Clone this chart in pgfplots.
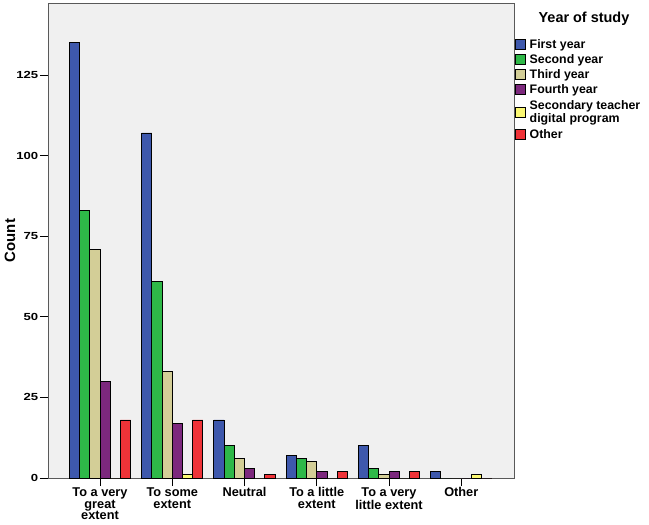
\documentclass[border=0pt]{standalone}
\usepackage{fontspec}
\setmainfont{Liberation Sans}
\newfontfamily\tickfont{Liberation Sans}[FakeStretch=1.28]
\usepackage{pgfplots}
\pgfplotsset{compat=1.18}
\definecolor{c1}{RGB}{62,88,172}
\definecolor{c2}{RGB}{46,184,72}
\definecolor{c3}{RGB}{211,206,151}
\definecolor{c4}{RGB}{124,40,125}
\definecolor{c5}{RGB}{251,248,115}
\definecolor{c6}{RGB}{239,51,56}
\definecolor{bgc}{RGB}{240,240,240}
\begin{document}
\begin{tikzpicture}
\path[use as bounding box] (-48bp,-47bp) rectangle (601bp,478bp);
\begin{axis}[name=ax, at={(0,0)}, anchor=south west,
  scale only axis, width=466bp, height=475bp,
  xmin=-0.72, xmax=5.73, ymin=0, ymax=147.3,
  ybar=0pt, bar width=10.2bp,
  xtick={0,1,2,3,4,5},
  xticklabels={{To a very\\great\\extent},{To some\\extent},{Neutral},{To a little\\extent},{To a very\\little extent},{Other}},
  xticklabel style={align=center, font=\bfseries\fontsize{12.8}{11.8}\selectfont, inner sep=1.5bp},
  ytick={0,25,50,75,100,125},
  /pgf/number format/assume math mode=true,
  yticklabel style={font=\tickfont\bfseries\fontsize{10.3}{12}\selectfont, inner sep=1.5bp},
  tick align=outside, major tick length=8bp,
  tick style={black, line width=0.8bp},
  xtick pos=left, ytick pos=left,
  axis line style={draw=black!65, line width=0.8bp},
  axis background/.style={fill=bgc},
  ylabel={Count},
  ylabel style={font=\bfseries\fontsize{15}{17}\selectfont, at={(axis description cs:0,0.5)}, yshift=38bp, anchor=center},
  legend cell align=left,
  legend image code/.code={\draw[#1, line width=0.7bp] (0bp,-5bp) rectangle (10bp,5bp);},
  legend style={at={(rel axis cs:1,1)}, anchor=north west, xshift=1bp, yshift=-34bp,
    draw=none, fill=none, inner sep=0pt, outer sep=0pt,
    font=\bfseries\fontsize{12.4}{13}\selectfont,
    cells={anchor=west}, nodes={inner sep=0pt, align=left, minimum height=15bp},
    /tikz/column sep=4bp},
]
\addplot[fill=c1, draw=black, line width=0.9bp] coordinates {(0,135) (1,107) (2,18) (3,7) (4,10) (5,2)};
\addlegendentry{First year}
\addplot[fill=c2, draw=black, line width=0.9bp] coordinates {(0,83) (1,61) (2,10) (3,6) (4,3) (5,0)};
\addlegendentry{Second year}
\addplot[fill=c3, draw=black, line width=0.9bp] coordinates {(0,71) (1,33) (2,6) (3,5) (4,1) (5,0)};
\addlegendentry{Third year}
\addplot[fill=c4, draw=black, line width=0.9bp] coordinates {(0,30) (1,17) (2,3) (3,2) (4,2) (5,0)};
\addlegendentry{Fourth year}
\addplot[fill=c5, draw=black, line width=0.9bp] coordinates {(0,0) (1,1) (2,0) (3,0) (4,0) (5,1)};
\addlegendentry[minimum height=30bp]{Secondary teacher\\digital program}
\addplot[fill=c6, draw=black, line width=0.9bp] coordinates {(0,18) (1,18) (2,1) (3,2) (4,2) (5,0)};
\addlegendentry{Other}
\end{axis}
\node[font=\bfseries\fontsize{14.5}{16}\selectfont] at ([xshift=70bp,yshift=-16bp]ax.north east) {Year of study};
\end{tikzpicture}
\end{document}
